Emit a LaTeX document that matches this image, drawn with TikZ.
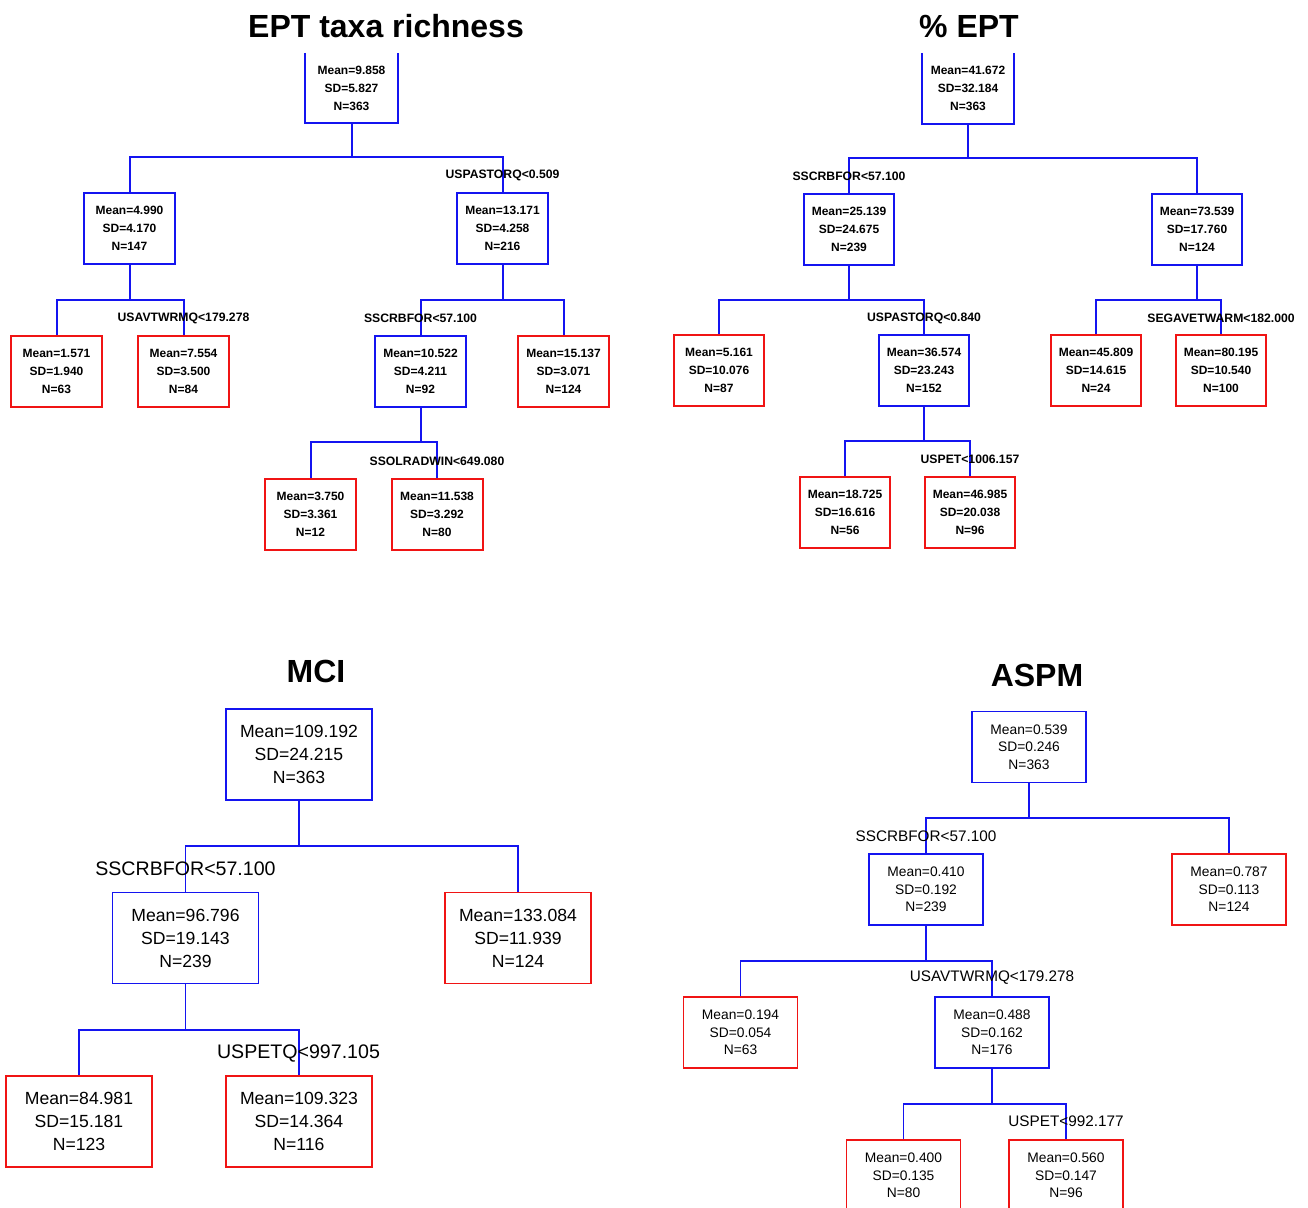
\documentclass[tikz,border=0pt]{standalone}
\usepackage{fontspec}
\setmainfont{Liberation Sans}
\definecolor{nblue}{RGB}{20,20,240}
\definecolor{nred}{RGB}{240,20,20}
\tikzset{
  ta/.style={font=\fontsize{12}{18}\selectfont\bfseries, align=center, minimum width=91pt, minimum height=71pt, inner sep=0pt, line width=2pt},
  tb/.style={ta, draw=nblue},
  tr/.style={ta, draw=nred},
  tlab/.style={font=\fontsize{12.2}{14}\selectfont\bfseries, inner sep=0pt},
  tcon/.style={draw=nblue, line width=2pt},
  ma/.style={font=\fontsize{17.6}{23}\selectfont, align=center, minimum width=146pt, minimum height=91pt, inner sep=0pt, line width=1.4pt},
  mb/.style={ma, draw=nblue},
  mr/.style={ma, draw=nred},
  mlab/.style={font=\fontsize{19.6}{22}\selectfont, inner sep=0pt},
  mcon/.style={draw=nblue, line width=1.4pt},
  aa/.style={font=\fontsize{13.8}{17.6}\selectfont, align=center, minimum width=114pt, minimum height=71pt, inner sep=0pt, line width=1.4pt},
  ab/.style={aa, draw=nblue},
  ar/.style={aa, draw=nred},
  alab/.style={font=\fontsize{15.3}{18}\selectfont, inner sep=0pt},
  ttl/.style={font=\fontsize{32}{36}\selectfont\bfseries, inner sep=0pt},
}
\begin{document}
\begin{tikzpicture}[x=1pt,y=-1pt]
\useasboundingbox (0,0) rectangle (1308,1207);
\clip (0,0) rectangle (1308,1207);
\fill[white] (0,0) rectangle (1308,1207);

% ---------------- EPT taxa richness ----------------
\node[ttl] (t1) at (386,26) {EPT taxa richness};
\node[ta, minimum height=68pt, text depth=0pt] (er) at (351.5,88) {Mean=9.858\\SD=5.827\\N=363};
\draw[tcon] (er.north west) -- (er.south west) -- (er.south east) -- (er.north east);
\node[tb] (ec1) at (129.5,228.5) {Mean=4.990\\SD=4.170\\N=147};
\node[tb] (ec2) at (502.5,228.5) {Mean=13.171\\SD=4.258\\N=216};
\node[tr] (el11) at (56.5,371.5) {Mean=1.571\\SD=1.940\\N=63};
\node[tr] (el12) at (183.5,371.5) {Mean=7.554\\SD=3.500\\N=84};
\node[tb] (ec21) at (420.5,371.5) {Mean=10.522\\SD=4.211\\N=92};
\node[tr] (el22) at (563.5,371.5) {Mean=15.137\\SD=3.071\\N=124};
\node[tr] (el211) at (310.5,514.5) {Mean=3.750\\SD=3.361\\N=12};
\node[tr] (el212) at (437,514.5) {Mean=11.538\\SD=3.292\\N=80};
\coordinate (es1) at (0,157);
\coordinate (es2) at (0,300);
\coordinate (es3) at (0,442);
\draw[tcon] (er.south) -- (er.south |- es1);
\draw[tcon] (ec1.north) |- (es1 -| ec2.north) -- (ec2.north);
\draw[tcon] (ec1.south) -- (ec1.south |- es2);
\draw[tcon] (el11.north) |- (es2 -| el12.north) -- (el12.north);
\draw[tcon] (ec2.south) -- (ec2.south |- es2);
\draw[tcon] (ec21.north) |- (es2 -| el22.north) -- (el22.north);
\draw[tcon] (ec21.south) -- (ec21.south |- es3);
\draw[tcon] (el211.north) |- (es3 -| el212.north) -- (el212.north);
\node[tlab] (elab1) at (502.5,175) {USPASTORQ<0.509};
\node[tlab] (elab2) at (183.5,318) {USAVTWRMQ<179.278};
\node[tlab] (elab3) at (420.5,318) {SSCRBFOR<57.100};
\node[tlab] (elab4) at (437,461) {SSOLRADWIN<649.080};

% ---------------- % EPT ----------------
\node[ttl] (t2) at (969,26) {\% EPT};
\node[ta, minimum width=90pt, minimum height=69pt] (pr) at (968,88.5) {Mean=41.672\\SD=32.184\\N=363};
\draw[tcon] (pr.north west) -- (pr.south west) -- (pr.south east) -- (pr.north east);
\node[tb, minimum width=90pt] (pc1) at (849,229.5) {Mean=25.139\\SD=24.675\\N=239};
\node[tb, minimum width=90pt] (pc2) at (1197,229.5) {Mean=73.539\\SD=17.760\\N=124};
\node[tr, minimum width=90pt] (pl11) at (719,370.5) {Mean=5.161\\SD=10.076\\N=87};
\node[tb, minimum width=90pt] (pc12) at (924,370.5) {Mean=36.574\\SD=23.243\\N=152};
\node[tr, minimum width=90pt] (pl121) at (845,512.5) {Mean=18.725\\SD=16.616\\N=56};
\node[tr, minimum width=90pt] (pl122) at (970,512.5) {Mean=46.985\\SD=20.038\\N=96};
\node[tr, minimum width=90pt] (pl21) at (1096,370.5) {Mean=45.809\\SD=14.615\\N=24};
\node[tr, minimum width=90pt] (pl22) at (1221,370.5) {Mean=80.195\\SD=10.540\\N=100};
\coordinate (ps1) at (0,158);
\coordinate (ps2) at (0,300);
\coordinate (ps3) at (0,441);
\draw[tcon] (pr.south) -- (pr.south |- ps1);
\draw[tcon] (pc1.north) |- (ps1 -| pc2.north) -- (pc2.north);
\draw[tcon] (pc1.south) -- (pc1.south |- ps2);
\draw[tcon] (pl11.north) |- (ps2 -| pc12.north) -- (pc12.north);
\draw[tcon] (pc12.south) -- (pc12.south |- ps3);
\draw[tcon] (pl121.north) |- (ps3 -| pl122.north) -- (pl122.north);
\draw[tcon] (pc2.south) -- (pc2.south |- ps2);
\draw[tcon] (pl21.north) |- (ps2 -| pl22.north) -- (pl22.north);
\node[tlab] (plab1) at (849,176) {SSCRBFOR<57.100};
\node[tlab] (plab2) at (924,318) {USPASTORQ<0.840};
\node[tlab] (plab3) at (970,459) {USPET<1006.157};
\node[tlab] (plab4) at (1221,318) {SEGAVETWARM<182.000};

% ---------------- MCI ----------------
\node[ttl] (t3) at (316,671) {MCI};
\node[mb] (mr) at (299,754.5) {Mean=109.192\\SD=24.215\\N=363};
\node[mb] (mc1) at (185.5,938) {Mean=96.796\\SD=19.143\\N=239};
\node[mr] (mc2) at (518,938) {Mean=133.084\\SD=11.939\\N=124};
\node[mr] (ml11) at (79,1121.5) {Mean=84.981\\SD=15.181\\N=123};
\node[mr] (ml12) at (299,1121.5) {Mean=109.323\\SD=14.364\\N=116};
\coordinate (ms1) at (0,846);
\coordinate (ms2) at (0,1030);
\draw[mcon] (mr.south) -- (mr.south |- ms1);
\draw[mcon] (mc1.north) |- (ms1 -| mc2.north) -- (mc2.north);
\draw[mcon] (mc1.south) -- (mc1.south |- ms2);
\draw[mcon] (ml11.north) |- (ms2 -| ml12.north) -- (ml12.north);
\node[mlab] (mlab1) at (185.5,869) {SSCRBFOR<57.100};
\node[mlab] (mlab2) at (298.5,1053) {USPETQ<997.105};

% ---------------- ASPM ----------------
\node[ttl] (t4) at (1037,675) {ASPM};
\node[ab] (ar) at (1029,747) {Mean=0.539\\SD=0.246\\N=363};
\node[ab] (ac1) at (926,889.5) {Mean=0.410\\SD=0.192\\N=239};
\node[ar] (ac2) at (1229,889.5) {Mean=0.787\\SD=0.113\\N=124};
\node[ar] (al11) at (740.5,1032.5) {Mean=0.194\\SD=0.054\\N=63};
\node[ab] (ac12) at (992,1032.5) {Mean=0.488\\SD=0.162\\N=176};
\node[ar] (al121) at (903.5,1175.5) {Mean=0.400\\SD=0.135\\N=80};
\node[ar] (al122) at (1066,1175.5) {Mean=0.560\\SD=0.147\\N=96};
\coordinate (as1) at (0,818);
\coordinate (as2) at (0,961);
\coordinate (as3) at (0,1104);
\draw[mcon] (ar.south) -- (ar.south |- as1);
\draw[mcon] (ac1.north) |- (as1 -| ac2.north) -- (ac2.north);
\draw[mcon] (ac1.south) -- (ac1.south |- as2);
\draw[mcon] (al11.north) |- (as2 -| ac12.north) -- (ac12.north);
\draw[mcon] (ac12.south) -- (ac12.south |- as3);
\draw[mcon] (al121.north) |- (as3 -| al122.north) -- (al122.north);
\node[alab] (alab1) at (926,836) {SSCRBFOR<57.100};
\node[alab] (alab2) at (992,978) {USAVTWRMQ<179.278};
\node[alab] (alab3) at (1066,1121) {USPET<992.177};
\end{tikzpicture}
\end{document}
